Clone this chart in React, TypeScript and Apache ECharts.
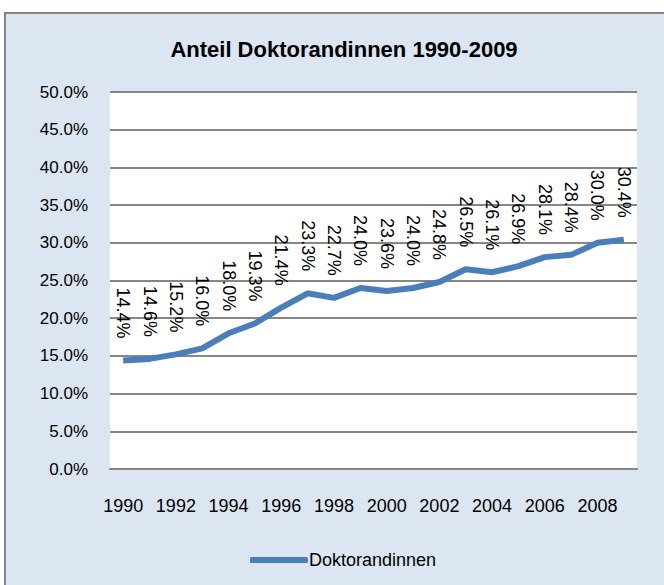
import React, { useEffect, useRef } from "react";
import * as echarts from "echarts";

const years = ["1990","1991","1992","1993","1994","1995","1996","1997","1998","1999","2000","2001","2002","2003","2004","2005","2006","2007","2008","2009"];
const shares = [14.4,14.6,15.2,16.0,18.0,19.3,21.4,23.3,22.7,24.0,23.6,24.0,24.8,26.5,26.1,26.9,28.1,28.4,30.0,30.4];
const seriesName = "Doktorandinnen";
const titleText = "Anteil Doktorandinnen 1990-2009";

export default function App() {
  const ref = useRef<HTMLDivElement>(null);
  useEffect(() => {
    if (!ref.current) return;
    const chart = echarts.init(ref.current, null, { renderer: "svg" });
    const font = "'Liberation Sans', Arial, sans-serif";
    chart.setOption({
      animation: false,
      backgroundColor: "#ffffff",
      textStyle: { fontFamily: font },
      graphic: [
        {
          type: "rect",
          z: -100,
          zlevel: 0,
          silent: true,
          shape: { x: 5, y: 13, width: 720, height: 640 },
          style: { fill: "#dce6f2", stroke: "#858585", lineWidth: 2 },
        },
      ],
      title: {
        text: titleText,
        left: 339,
        textAlign: "center",
        top: 33,
        textStyle: { fontFamily: font, fontSize: 22, fontWeight: "bold", color: "#000" },
      },
      grid: {
        left: 110,
        right: 27,
        top: 92,
        bottom: 116,
        show: true,
        backgroundColor: "#ffffff",
        borderWidth: 0,
        containLabel: false,
      },
      legend: {
        data: [{ name: seriesName, icon: "roundRect" }],
        left: 245,
        top: 546,
        itemWidth: 58,
        itemHeight: 6,
        itemGap: 4,
        textStyle: { fontFamily: font, fontSize: 18, color: "#000", padding: [0, 0, 0, -4] },
      },
      xAxis: {
        type: "category",
        data: years,
        boundaryGap: true,
        axisLine: { show: true, lineStyle: { color: "#868686", width: 2 } },
        axisTick: { show: false },
        axisLabel: {
          interval: 1,
          margin: 28,
          fontFamily: font,
          fontSize: 18,
          color: "#000",
        },
      },
      yAxis: {
        type: "value",
        min: 0,
        max: 50,
        interval: 5,
        axisLine: { show: false },
        axisTick: { show: false },
        splitLine: { show: true, lineStyle: { color: "#868686", width: 2 } },
        axisLabel: {
          margin: 22,
          fontFamily: font,
          fontSize: 17,
          color: "#000",
          formatter: (v: number) => v.toFixed(1) + "%",
        },
      },
      series: [
        {
          name: seriesName,
          type: "line",
          data: shares,
          symbol: "circle",
          symbolSize: 0,
          showSymbol: true,
          lineStyle: { color: "#4a7ebb", width: 6 },
          itemStyle: { color: "#4a7ebb" },
          labelLayout: { hideOverlap: false },
          label: {
            show: true,
            position: "top",
            distance: 22,
            rotate: -90,
            align: "right",
            verticalAlign: "middle",
            fontFamily: font,
            fontSize: 18,
            color: "#000",
            formatter: (p: any) => Number(p.value).toFixed(1) + "%",
          },
        },
      ],
    });
    return () => chart.dispose();
  }, []);
  return (
    <div
      ref={ref}
      style={{ position: "fixed", left: 0, top: 0, width: 664, height: 585 }}
    />
  );
}
